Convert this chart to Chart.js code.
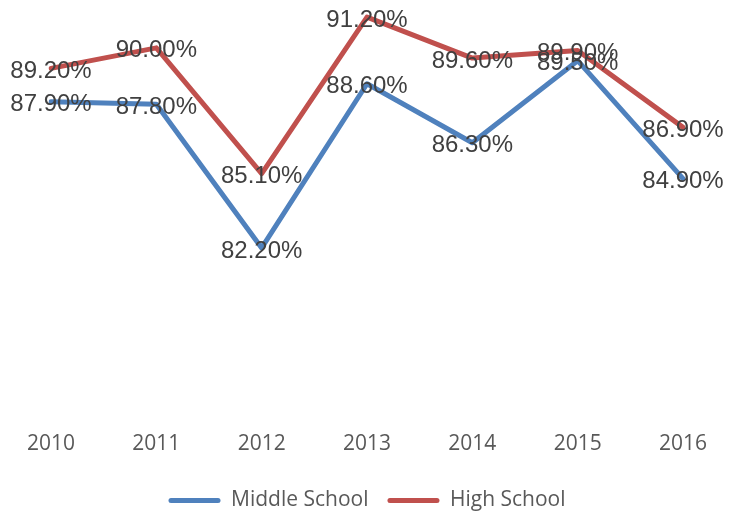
<!DOCTYPE html>
<html>
<head>
<meta charset="utf-8">
<script src="https://cdn.jsdelivr.net/npm/chart.js@4/dist/chart.umd.min.js"></script>
<style>
  html, body { margin: 0; padding: 0; background: #fff; }
  #wrap { width: 739px; height: 513px; }
</style>
</head>
<body>
<div id="wrap"><canvas id="chart"></canvas></div>
<script>
// 数据
const years = ['2010', '2011', '2012', '2013', '2014', '2015', '2016'];
const middleSchool = [87.9, 87.8, 82.2, 88.6, 86.3, 89.5, 84.9];
const highSchool = [89.2, 90.0, 85.1, 91.2, 89.6, 89.9, 86.9];

const axisFont = "'Open Sans', 'Noto Sans', sans-serif";

// 数据标签插件
const pointLabels = {
    id: 'pointLabels',
    afterDatasetsDraw(chart) {
        const ctx = chart.ctx;
        ctx.save();
        ctx.font = "24px 'Liberation Sans', Arial, sans-serif";
        ctx.fillStyle = '#404040';
        ctx.textAlign = 'center';
        ctx.textBaseline = 'middle';
        chart.data.datasets.forEach((ds, i) => {
            const meta = chart.getDatasetMeta(i);
            meta.data.forEach((pt, j) => {
                ctx.fillText(ds.data[j].toFixed(2) + '%', pt.x, pt.y + 3);
            });
        });
        ctx.restore();
    }
};

new Chart(document.getElementById('chart'), {
    type: 'line',
    data: {
        labels: years,
        datasets: [
            {
                label: 'Middle School',
                data: middleSchool,
                borderColor: '#4F81BD',
                backgroundColor: '#4F81BD',
                borderWidth: 5,
                pointRadius: 0,
                tension: 0,
                borderJoinStyle: 'round',
                borderCapStyle: 'round'
            },
            {
                label: 'High School',
                data: highSchool,
                borderColor: '#C0504D',
                backgroundColor: '#C0504D',
                borderWidth: 5,
                pointRadius: 0,
                tension: 0,
                borderJoinStyle: 'round',
                borderCapStyle: 'round'
            }
        ]
    },
    options: {
        responsive: true,
        maintainAspectRatio: false,
        animation: false,
        layout: {
            padding: { left: 51, right: 56, top: 5, bottom: -8 }
        },
        plugins: {
            tooltip: { enabled: false },
            legend: {
                position: 'bottom',
                labels: {
                    boxWidth: 52,
                    boxHeight: 5,
                    useBorderRadius: true,
                    borderRadius: 2.5,
                    padding: 19,
                    color: '#595959',
                    font: { family: axisFont, size: 21 },
                    generateLabels(chart) {
                        return Chart.defaults.plugins.legend.labels.generateLabels(chart)
                            .map(item => Object.assign(item, { lineWidth: 0 }));
                    }
                }
            }
        },
        scales: {
            x: {
                offset: false,
                grid: { display: false, drawTicks: false },
                border: { display: false },
                ticks: {
                    color: '#595959',
                    padding: 14,
                    font: { family: axisFont, size: 21 }
                }
            },
            y: {
                display: false,
                min: 75.58,
                max: 91.67
            }
        }
    },
    plugins: [pointLabels]
});
</script>
</body>
</html>
